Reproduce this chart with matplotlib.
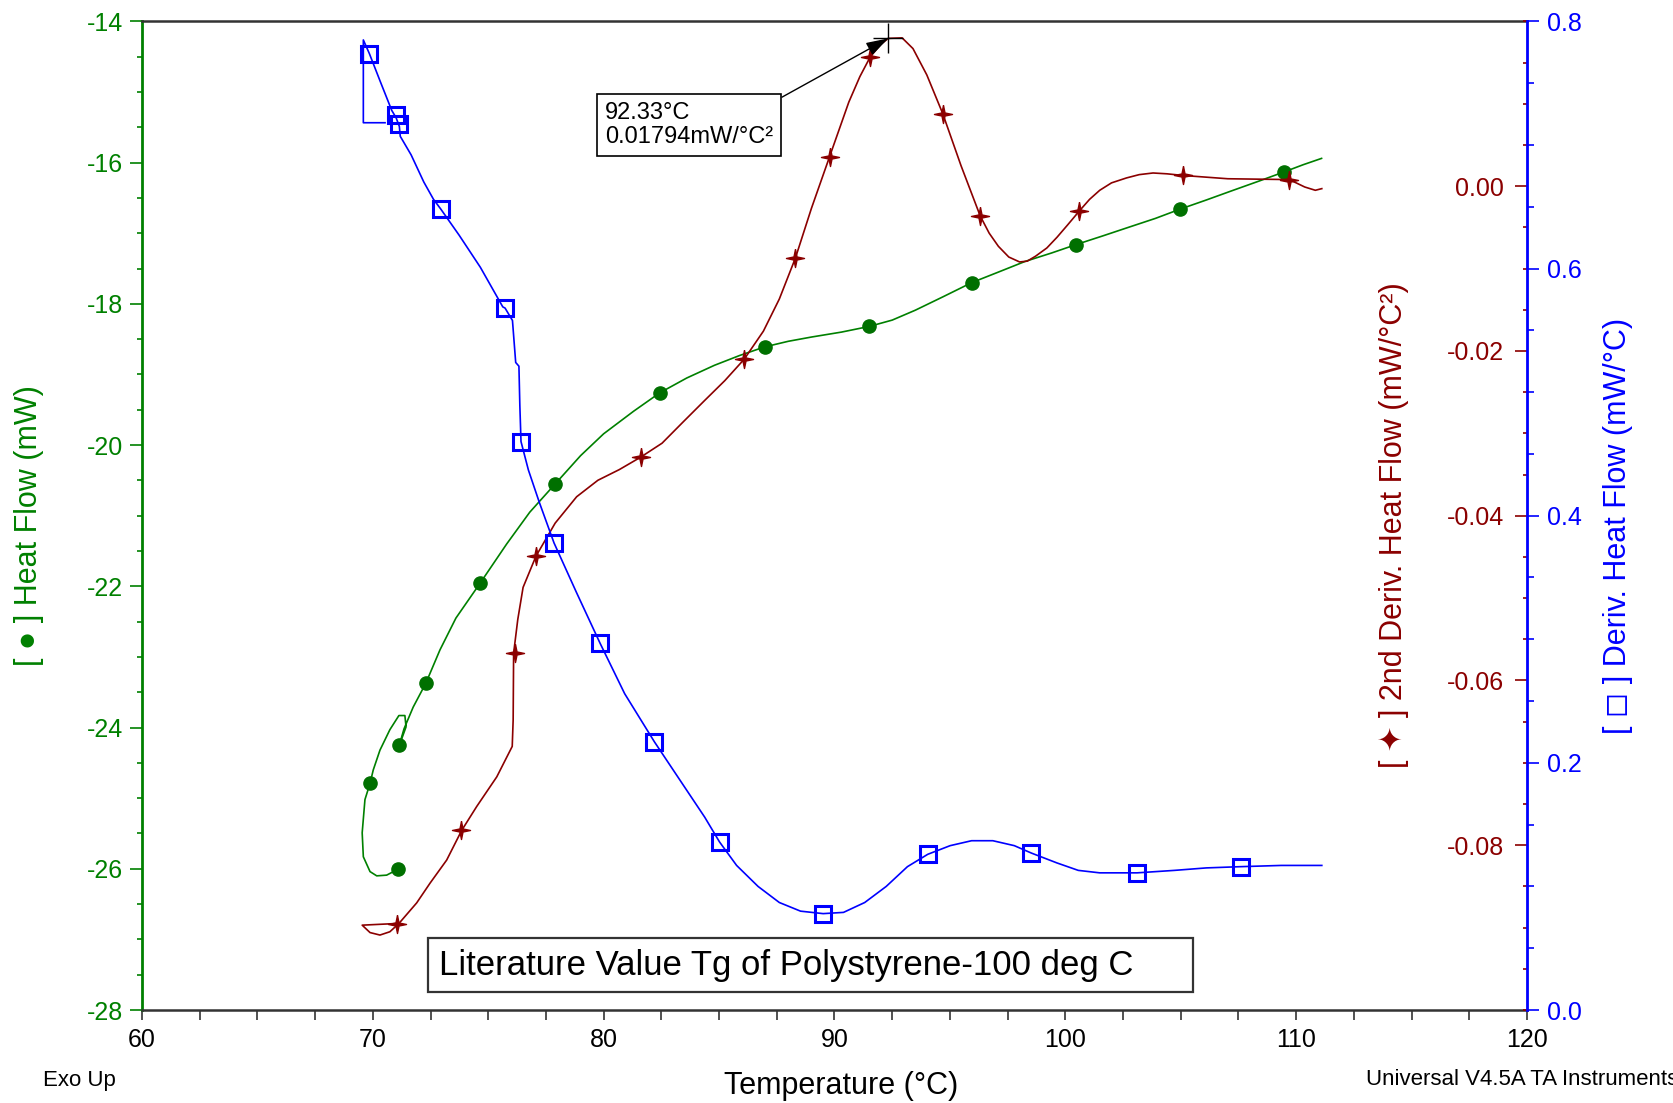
import matplotlib
matplotlib.use("Agg")
import matplotlib.pyplot as plt
from matplotlib.patches import Rectangle
from matplotlib.ticker import MultipleLocator, FixedLocator, FormatStrFormatter

plt.rcParams['font.family'] = ['Liberation Sans', 'DejaVu Sans']
plt.rcParams['axes.unicode_minus'] = False

# ---------------- data ----------------
# Heat flow (green, left axis, mW)
hf_T = [71.13, 70.60, 70.17, 69.88, 69.59, 69.54, 69.66, 69.88, 70.02, 70.31, 70.74,
        71.13, 71.39, 71.44, 71.13, 71.35, 71.75, 72.30, 72.91, 73.60, 74.66, 75.80,
        76.80, 77.90, 79.00, 80.00, 81.30, 82.43, 83.60, 84.80, 85.90, 86.97, 88.00,
        89.00, 90.30, 91.50, 92.50, 93.50, 94.70, 95.94, 97.10, 98.25, 99.40, 100.47,
        101.60, 102.70, 103.90, 104.96, 106.10, 107.20, 108.40, 109.49, 110.30, 111.10]
hf_val = [-26.00, -26.09, -26.10, -26.04, -25.83, -25.49, -25.02, -24.79, -24.60, -24.32,
          -24.03, -23.83, -23.83, -23.99, -24.27, -24.02, -23.71, -23.37, -22.90, -22.45,
          -21.95, -21.40, -20.95, -20.55, -20.15, -19.84, -19.52, -19.26, -19.05, -18.87,
          -18.73, -18.61, -18.53, -18.47, -18.40, -18.32, -18.23, -18.09, -17.90, -17.70,
          -17.55, -17.40, -17.28, -17.16, -17.04, -16.92, -16.79, -16.66, -16.53, -16.40,
          -16.26, -16.13, -16.03, -15.94]
hf_mk_T = [69.90, 71.15, 71.10, 72.30, 74.66, 77.90, 82.43, 86.97, 91.50, 95.94,
           100.47, 104.96, 109.49]
hf_mk_val = [-24.78, -24.25, -26.00, -23.37, -21.95, -20.55, -19.26, -18.61, -18.32,
             -17.70, -17.16, -16.66, -16.13]

# 2nd derivative of heat flow (dark red, mW/°C²)
d2_T = [71.03, 69.54, 69.88, 70.31, 70.74, 71.13, 71.90, 72.48, 73.20, 73.85, 74.50,
        75.37, 76.04, 76.08, 76.10, 76.28, 76.51, 77.07, 77.90, 78.83, 79.75, 80.68,
        81.60, 82.53, 83.45, 84.38, 85.25, 86.09, 86.92, 87.61, 88.31, 89.00, 89.79,
        90.62, 91.10, 91.55, 92.00, 92.33, 92.93, 93.40, 94.00, 94.69, 95.48, 96.31,
        96.70, 97.10, 97.55, 98.02, 98.35, 98.71, 99.20, 99.64, 100.10, 100.61, 101.05,
        101.49, 102.00, 102.65, 103.20, 103.80, 104.40, 105.10, 107.04, 109.68, 110.00,
        110.37, 110.83, 111.11]
d2_val = [-0.0895, -0.0897, -0.0906, -0.0909, -0.0905, -0.0895, -0.0870, -0.0846,
          -0.0818, -0.0782, -0.0753, -0.0717, -0.0680, -0.0648, -0.0567, -0.0526,
          -0.0487, -0.0449, -0.0409, -0.0377, -0.0357, -0.0344, -0.0329, -0.0312,
          -0.0286, -0.0260, -0.0236, -0.0210, -0.0176, -0.0137, -0.0087, -0.0027,
          0.0036, 0.0102, 0.0133, 0.0157, 0.0172, 0.01794, 0.0180, 0.0167, 0.0135,
          0.0088, 0.0025, -0.0036, -0.0057, -0.0073, -0.0086, -0.0092, -0.0091,
          -0.0085, -0.0075, -0.0062, -0.0047, -0.0030, -0.0016, -0.0005, 0.0004,
          0.0010, 0.0014, 0.0016, 0.0015, 0.0013, 0.0009, 0.0008, 0.0004, -0.0001,
          -0.0005, -0.0003]
d2_mk_T = [71.05, 73.83, 76.14, 77.07, 81.60, 86.09, 88.31, 89.79, 91.55, 94.69,
           96.31, 100.61, 105.10, 109.68]
d2_mk_val = [-0.0896, -0.0781, -0.0567, -0.0449, -0.0329, -0.0210, -0.0087, 0.0036,
             0.0157, 0.0088, -0.0036, -0.0030, 0.0013, 0.0008]

# Derivative of heat flow (blue, mW/°C)
d1_T = [70.53, 69.59, 69.59, 69.85, 70.31, 70.82, 71.01, 71.15, 71.19, 71.66, 72.21,
        72.63, 72.95, 73.74, 74.66, 75.63, 75.73, 76.05, 76.19, 76.33, 76.37, 76.42,
        76.74, 77.21, 77.85, 78.82, 79.84, 80.91, 82.20, 83.45, 84.38, 85.02, 85.76,
        86.69, 87.61, 88.53, 89.51, 90.39, 91.31, 92.24, 93.16, 94.04, 95.01, 95.94,
        96.86, 97.79, 98.53, 99.64, 100.56, 101.49, 103.11, 104.73, 106.11, 107.59,
        109.35, 111.11]
d1_val = [0.718, 0.718, 0.785, 0.774, 0.752, 0.728, 0.722, 0.715, 0.707, 0.692, 0.670,
          0.656, 0.648, 0.627, 0.601, 0.569, 0.568, 0.558, 0.524, 0.521, 0.489, 0.460,
          0.437, 0.411, 0.378, 0.338, 0.297, 0.256, 0.217, 0.182, 0.156, 0.136, 0.117,
          0.100, 0.087, 0.080, 0.078, 0.079, 0.087, 0.100, 0.116, 0.126, 0.133, 0.137,
          0.137, 0.133, 0.127, 0.119, 0.113, 0.111, 0.111, 0.113, 0.115, 0.116, 0.117,
          0.117]
d1_mk_T = [69.85, 71.01, 71.15, 72.95, 75.73, 76.42, 77.85, 79.84, 82.20, 85.02,
           89.51, 94.04, 98.53, 103.11, 107.59]
d1_mk_val = [0.774, 0.724, 0.717, 0.648, 0.568, 0.460, 0.378, 0.297, 0.217, 0.136,
             0.078, 0.126, 0.127, 0.111, 0.116]

peak_T = 92.33
peak_val = 0.01794
peak_text = "92.33°C\n0.01794mW/°C²"
note_text = "Literature Value Tg of Polystyrene-100 deg C"

GREEN = '#008000'
GREEN_MK = '#007000'
RED = '#8B0000'
BLUE = '#0000FF'
DARK = '#333333'

# ---------------- figure ----------------
fig = plt.figure(figsize=(16.74, 11.03), dpi=100)
ax = fig.add_axes([0.0848, 0.0843, 0.8274, 0.8963])
ax2 = ax.twinx()
ax3 = ax.twinx()

ax.set_xlim(60, 120)
ax.set_ylim(-28, -14)
ax2.set_ylim(-0.1, 0.02)
ax3.set_ylim(0, 0.8)

# curves
ax.plot(hf_T, hf_val, color=GREEN, lw=1.2, zorder=3)
ax.plot(hf_mk_T, hf_mk_val, ls='none', marker='o', ms=9.5, color=GREEN_MK, zorder=4)

star = [(0, 1), (0.17, 0.17), (1, 0), (0.17, -0.17), (0, -1), (-0.17, -0.17),
        (-1, 0), (-0.17, 0.17), (0, 1)]
ax2.plot(d2_T, d2_val, color=RED, lw=1.2, zorder=3)
ax2.plot(d2_mk_T, d2_mk_val, ls='none', marker=star, ms=13, color=RED, zorder=4)
ax2.plot([peak_T], [peak_val], ls='none', marker='+', ms=22, mew=1.0, color='black', zorder=5)

ax3.plot(d1_T, d1_val, color=BLUE, lw=1.2, zorder=3)
ax3.plot(d1_mk_T, d1_mk_val, ls='none', marker='s', ms=11.5, mew=2.2,
         mfc='none', mec=BLUE, zorder=4)

# ---------------- spines ----------------
for a in (ax2, ax3):
    for s in a.spines.values():
        s.set_visible(False)
ax.spines['right'].set_visible(False)
ax.spines['left'].set_color(GREEN)
ax.spines['left'].set_linewidth(2)
for s in ('top', 'bottom'):
    ax.spines[s].set_color(DARK)
    ax.spines[s].set_linewidth(1.8)
ax3.spines['right'].set_visible(True)
ax3.spines['right'].set_color(BLUE)
ax3.spines['right'].set_linewidth(2)

# ---------------- ticks ----------------
ax.xaxis.set_major_locator(MultipleLocator(10))
ax.xaxis.set_minor_locator(MultipleLocator(2.5))
ax.tick_params(axis='x', which='both', direction='out', length=7, width=1.2,
               color=DARK, labelsize=18, pad=6, labelcolor='black')

ax.yaxis.set_major_locator(MultipleLocator(2))
ax.yaxis.set_minor_locator(MultipleLocator(0.5))
ax.yaxis.set_major_formatter(FormatStrFormatter('%d'))
ax.tick_params(axis='y', which='major', direction='out', length=8.6, width=1.2,
               color=GREEN, labelcolor=GREEN, labelsize=18, pad=5)
ax.tick_params(axis='y', which='minor', direction='out', length=3.6, width=1.2,
               color=GREEN)

# red axis: ticks on the right spine, pointing into the plot, labels inside
ax2.spines['left'].set_position(('axes', 1.0))
ax2.yaxis.tick_left()
ax2.yaxis.set_major_locator(FixedLocator([-0.08, -0.06, -0.04, -0.02, 0.0]))
ax2.yaxis.set_minor_locator(MultipleLocator(0.005))
ax2.yaxis.set_major_formatter(FormatStrFormatter('%.2f'))
ax2.tick_params(axis='y', which='major', direction='out', length=8.6, width=1.2,
                color=RED, labelcolor=RED, labelsize=18, pad=8)
ax2.tick_params(axis='y', which='minor', direction='out', length=3.2, width=1.2,
                color=RED)

ax3.yaxis.set_major_locator(MultipleLocator(0.2))
ax3.yaxis.set_minor_locator(MultipleLocator(0.05))
ax3.yaxis.set_major_formatter(FormatStrFormatter('%.1f'))
ax3.tick_params(axis='y', which='major', direction='out', length=8.6, width=1.2,
                color=BLUE, labelcolor=BLUE, labelsize=18, pad=6)
ax3.tick_params(axis='y', which='minor', direction='out', length=5, width=1.2,
                color=BLUE)

# ---------------- labels ----------------
ax.set_xlabel("Temperature (°C)", fontsize=22, color='black', va='center')
ax.xaxis.set_label_coords(0.505, -0.077)

ax.set_ylabel("[ ● ] Heat Flow (mW)", fontsize=22, color=GREEN, va='center', ha='center')
ax.yaxis.set_label_coords(-0.0815, 0.49)

ax2.set_ylabel("[ ✦ ] 2nd Deriv. Heat Flow (mW/°C²)", fontsize=22, color=RED,
               va='center', ha='center')
ax2.yaxis.set_label_coords(0.904, 0.49)

ax3.set_ylabel("[ ◻ ] Deriv. Heat Flow (mW/°C)", fontsize=22, color=BLUE,
               va='center', ha='center')
ax3.yaxis.set_label_coords(1.066, 0.49)

fig.text(0.0257, 0.020, "Exo Up", fontsize=16, color='black', ha='left', va='center')
fig.text(0.8163, 0.021, "Universal V4.5A TA Instruments", fontsize=16, color='black',
         ha='left', va='center')

# literature note box
ax3.add_patch(Rectangle((0.2065, 0.0184), 0.552, 0.054, transform=ax.transAxes,
                        fc='white', ec=DARK, lw=1.6, zorder=5))
ax3.text(0.2144, 0.0455, note_text, transform=ax.transAxes, fontsize=25,
         color='black', ha='left', va='center', zorder=6)

# peak annotation
ax3.annotate(peak_text, xy=(peak_T, peak_val), xycoords=ax2.transData,
             xytext=(0.3343, 0.9184), textcoords=ax.transAxes,
             fontsize=17, ha='left', va='top', linespacing=1.1, zorder=6,
             bbox=dict(boxstyle='square,pad=0.35', fc='white', ec='black', lw=1.2),
             arrowprops=dict(arrowstyle='-|>,head_length=0.8,head_width=0.25',
                             color='black', lw=1.0, relpos=(1, 1),
                             shrinkA=0, shrinkB=0))

fig.savefig("out.png", dpi=100)
